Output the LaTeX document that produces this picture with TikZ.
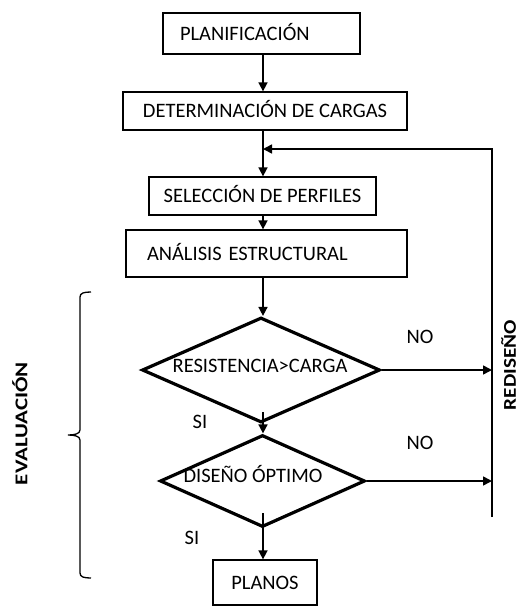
\documentclass[tikz,border=0pt]{standalone}
\usepackage{fontspec}
\setmainfont{Carlito}
\usetikzlibrary{shapes.geometric,arrows.meta}
\begin{document}
\begin{tikzpicture}[x=1pt,y=-1pt,
  every node/.style={font=\fontsize{20.5}{24}\selectfont, text height=13pt, text depth=0pt},
  boxnode/.style={draw, line width=1.3pt, inner sep=0pt},
  decision/.style={draw, diamond, line width=3.2pt, inner sep=0pt, aspect=2.2},
  conn/.style={line width=1.6pt, -{Triangle[length=9pt,width=9pt]}},
  plain/.style={line width=1.6pt},
  lbl/.style={inner sep=0pt},
  sidelbl/.style={inner sep=0pt, rotate=90, text height=11.6pt, font=\fontsize{18}{20}\selectfont\bfseries}]
\useasboundingbox (0,0) rectangle (521,606);
\coordinate (col) at (263,0);
% boxes
\node[boxnode, minimum width=197pt, minimum height=41pt, text width=163pt, align=left, inner xsep=17pt] (plan) at (261.5,33.5) {PLANIFICACIÓN};
\node[boxnode, minimum width=284pt, minimum height=38pt] (det) at (265,111) {DETERMINACIÓN DE CARGAS};
\node[boxnode, minimum width=227pt, minimum height=38pt] (sel) at (262.5,196) {SELECCIÓN DE PERFILES};
\node[boxnode, minimum width=281pt, minimum height=47pt, text width=239pt, align=left, inner xsep=21pt] (ana) at (266.5,253.5) {ANÁLISIS ESTRUCTURAL};
\node[decision, minimum width=238pt, minimum height=105pt] (d1) at (261,370) {};
\node[lbl] (d1t) at (260,366) {RESISTENCIA>CARGA};
\node[decision, minimum width=205pt, minimum height=92pt] (d2) at (262.5,481) {};
\node[lbl] (d2t) at (253,476) {DISEÑO ÓPTIMO};
\node[boxnode, minimum width=104pt, minimum height=45pt] (planos) at (265,582.5) {PLANOS};
% labels
\node[lbl] (no1) at (420,337) {NO};
\node[lbl] (no2) at (420,443) {NO};
\node[lbl] (si1) at (200,422) {SI};
\node[lbl] (si2) at (192,538) {SI};
\node[sidelbl] (red) at (510,365) {\resizebox{90pt}{\height}{REDISEÑO}};
\node[sidelbl] (eva) at (21.5,423.5) {\resizebox{123pt}{\height}{EVALUACIÓN}};
% helper coordinates
\coordinate (fbTop) at (492,149);
\coordinate (fbBot) at (492,517);
\coordinate (fbIn) at (263,149);
\coordinate (r1) at (492,370);
\coordinate (r2) at (492,481);
\coordinate (d1out) at (263,412);
\coordinate (d2out) at (263,513);
% connectors
\draw[conn] (plan.south -| col) -- (det.north -| col);
\draw[plain] (det.south -| col) -- (fbIn);
\draw[conn] (fbIn) -- (sel.north -| col);
\draw[conn] (fbBot) -- (fbTop) -- (fbIn);
\draw[conn] (sel.south -| col) -- (ana.north -| col);
\draw[conn] (ana.south -| col) -- (d1.north -| col);
\draw[conn] (d1out) -- (d2.north -| col);
\draw[conn] (d2out) -- (planos.north -| col);
\draw[conn] (d1.east) -- (r1);
\draw[conn] (d2.east) -- (r2);
% bracket
\draw[line width=1.3pt] (91,292) .. controls (84,292) and (80,293) .. (80,297)
  -- (80,430) .. controls (80,434) and (74,435) .. (68,435)
  .. controls (74,435) and (80,436) .. (80,440)
  -- (80,573) .. controls (80,577) and (84,578) .. (91,578);
\end{tikzpicture}
\end{document}
